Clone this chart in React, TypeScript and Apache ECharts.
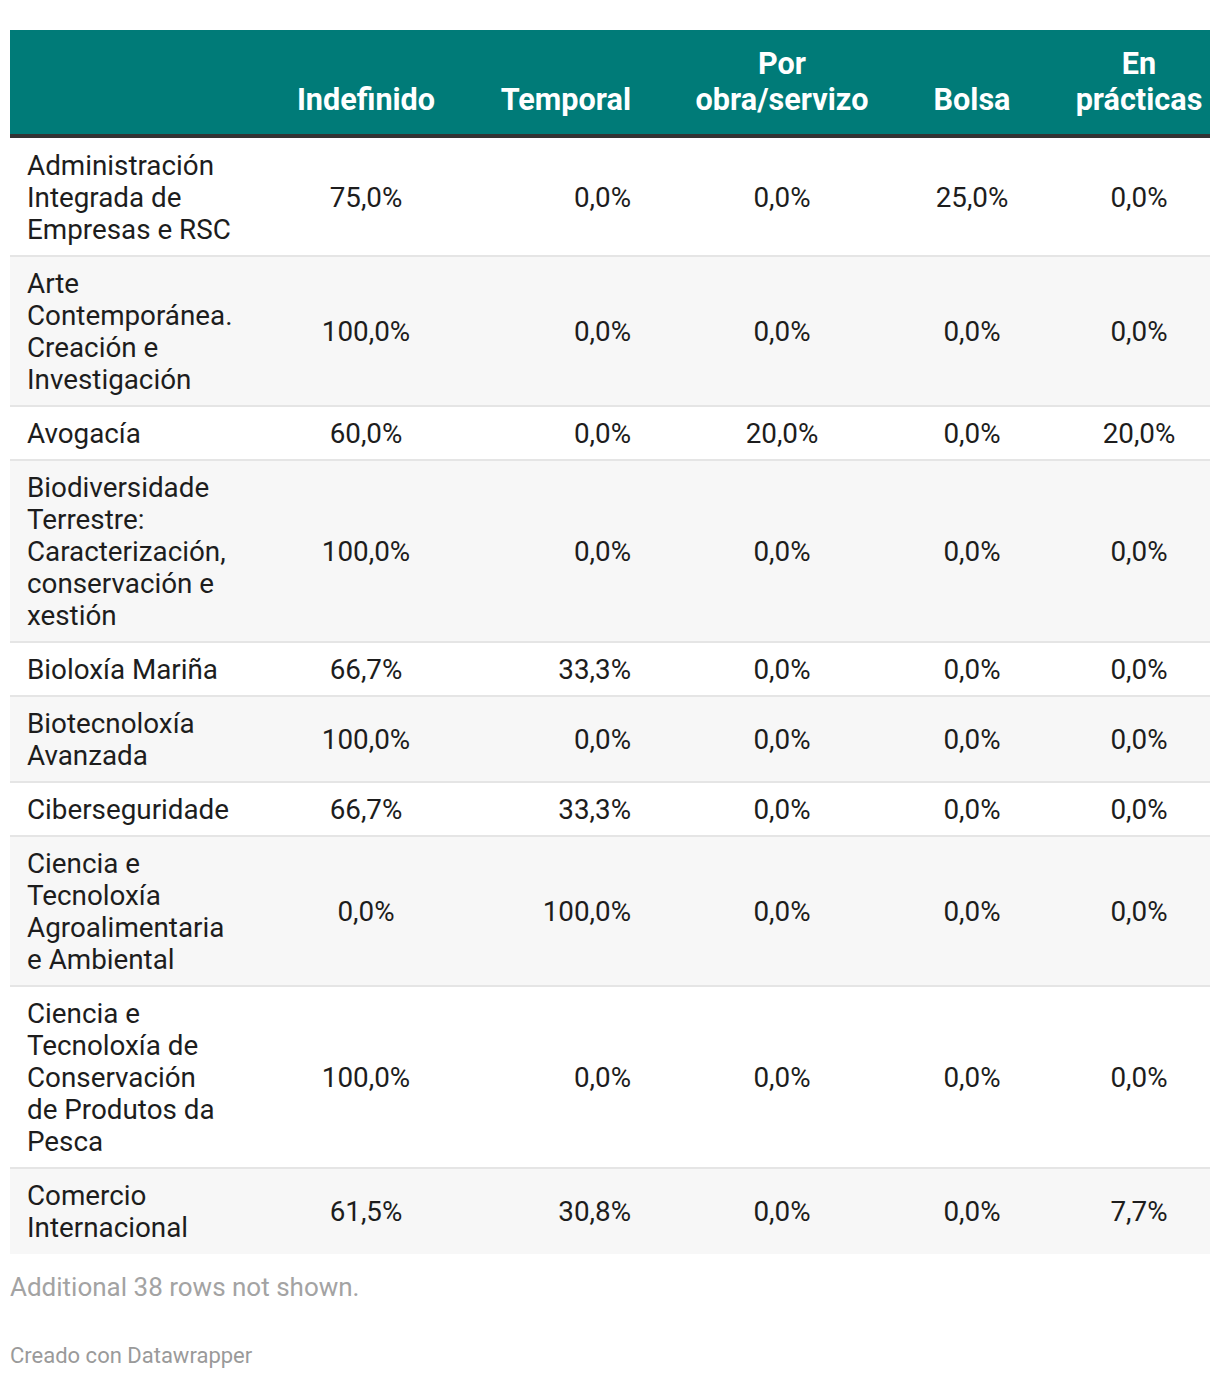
import React, { useEffect, useRef } from "react";
import * as echarts from "echarts";

// ---- Data ----
const columnHeaders = ["Indefinido", "Temporal", "Por\nobra/servizo", "Bolsa", "En\nprácticas"];
const rowLabels = [
  "Administración\nIntegrada de\nEmpresas e RSC",
  "Arte\nContemporánea.\nCreación e\nInvestigación",
  "Avogacía",
  "Biodiversidade\nTerrestre:\nCaracterización,\nconservación e\nxestión",
  "Bioloxía Mariña",
  "Biotecnoloxía\nAvanzada",
  "Ciberseguridade",
  "Ciencia e\nTecnoloxía\nAgroalimentaria\ne Ambiental",
  "Ciencia e\nTecnoloxía de\nConservación\nde Produtos da\nPesca",
  "Comercio\nInternacional",
];
const indefinido = [75.0, 100.0, 60.0, 100.0, 66.7, 100.0, 66.7, 0.0, 100.0, 61.5];
const temporal = [0.0, 0.0, 0.0, 0.0, 33.3, 0.0, 33.3, 100.0, 0.0, 30.8];
const porObraServizo = [0.0, 0.0, 20.0, 0.0, 0.0, 0.0, 0.0, 0.0, 0.0, 0.0];
const bolsa = [25.0, 0.0, 0.0, 0.0, 0.0, 0.0, 0.0, 0.0, 0.0, 0.0];
const enPracticas = [0.0, 0.0, 20.0, 0.0, 0.0, 0.0, 0.0, 0.0, 0.0, 7.7];
const footnote = "Additional 38 rows not shown.";
const credit = "Creado con Datawrapper";

const columnValues = [indefinido, temporal, porObraServizo, bolsa, enPracticas];

// ---- Layout ----
const FONT = "Roboto, 'Noto Sans', sans-serif";
const TABLE_LEFT = 10;
const TABLE_RIGHT = 1210;
const HEADER_TOP = 30;
const HEADER_BOTTOM = 134;
const BORDER_H = 4;
const LINE_H = 32;
const ROW_PAD = 22;
const LABEL_X = 27;
const BODY_FONT = `27.8px ${FONT}`;
const colAnchors: { x: number; align: "center" | "right" }[] = [
  { x: 366, align: "center" },
  { x: 631, align: "right" },
  { x: 782, align: "center" },
  { x: 972, align: "center" },
  { x: 1139, align: "center" },
];

const fmt = (v: number) => v.toFixed(1).replace(".", ",") + "%";

function buildGraphics() {
  const els: any[] = [];
  els.push({
    type: "rect",
    shape: { x: TABLE_LEFT, y: HEADER_TOP, width: TABLE_RIGHT - TABLE_LEFT, height: HEADER_BOTTOM - HEADER_TOP },
    style: { fill: "#007b78" },
  });
  els.push({
    type: "rect",
    shape: { x: TABLE_LEFT, y: HEADER_BOTTOM, width: TABLE_RIGHT - TABLE_LEFT, height: BORDER_H },
    style: { fill: "#333333" },
  });
  columnHeaders.forEach((h, i) => {
    els.push({
      type: "text",
      x: colAnchors[i].x,
      y: 117,
      style: {
        text: h,
        fill: "#ffffff",
        font: `bold 30.6px ${FONT}`,
        lineHeight: 36,
        align: colAnchors[i].align,
        verticalAlign: "bottom",
      },
    });
  });

  let y = HEADER_BOTTOM + BORDER_H;
  rowLabels.forEach((label, r) => {
    const nLines = label.split("\n").length;
    const h = ROW_PAD + LINE_H * nLines;
    els.push({
      type: "rect",
      shape: { x: TABLE_LEFT, y, width: TABLE_RIGHT - TABLE_LEFT, height: h },
      style: { fill: r % 2 === 0 ? "#ffffff" : "#f7f7f7" },
    });
    if (r > 0) {
      els.push({
        type: "line",
        shape: { x1: TABLE_LEFT, y1: y, x2: TABLE_RIGHT, y2: y },
        style: { stroke: "#e5e5e5", lineWidth: 2 },
      });
    }
    const cy = y + h / 2;
    els.push({
      type: "text",
      x: LABEL_X,
      y: cy,
      style: {
        text: label,
        fill: "#1d1d1d",
        font: BODY_FONT,
        lineHeight: LINE_H,
        align: "left",
        verticalAlign: "middle",
      },
    });
    columnValues.forEach((vals, c) => {
      els.push({
        type: "text",
        x: colAnchors[c].x,
        y: cy,
        style: {
          text: fmt(vals[r]),
          fill: "#1d1d1d",
          font: BODY_FONT,
          align: colAnchors[c].align,
          verticalAlign: "middle",
        },
      });
    });
    y += h;
  });

  els.push({
    type: "text",
    x: TABLE_LEFT,
    y: 1287,
    style: { text: footnote, fill: "#a3a3a3", font: `26px ${FONT}`, verticalAlign: "middle" },
  });
  els.push({
    type: "text",
    x: TABLE_LEFT,
    y: 1355,
    style: { text: credit, fill: "#9a9a9a", font: `22px ${FONT}`, verticalAlign: "middle" },
  });
  return els;
}

export default function App() {
  const ref = useRef<HTMLDivElement>(null);
  useEffect(() => {
    if (!ref.current) return;
    const chart = echarts.init(ref.current, undefined, { renderer: "svg" });
    chart.setOption({
      animation: false,
      backgroundColor: "#ffffff",
      graphic: { elements: buildGraphics() },
    });
    return () => chart.dispose();
  }, []);
  return (
    <div
      ref={ref}
      style={{ position: "absolute", left: 0, top: 0, width: 1220, height: 1378, background: "#fff" }}
    />
  );
}
